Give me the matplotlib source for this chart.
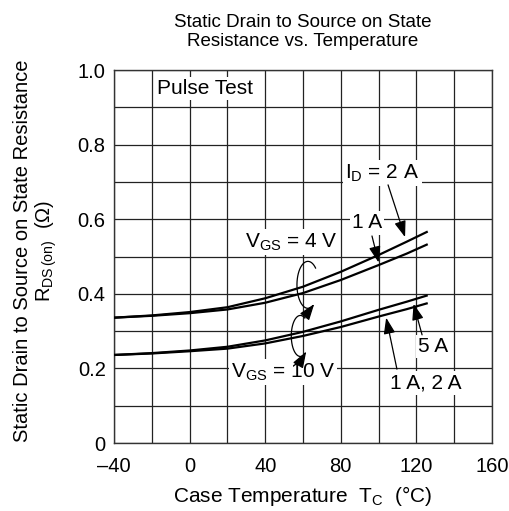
import matplotlib
matplotlib.use("Agg")
import numpy as np
import matplotlib.pyplot as plt
from matplotlib.patches import FancyArrowPatch
from matplotlib.path import Path

plt.rcParams['font.family'] = ['Liberation Sans', 'DejaVu Sans']
plt.rcParams['mathtext.fontset'] = 'custom'
plt.rcParams['mathtext.rm'] = 'Liberation Sans'
plt.rcParams['mathtext.it'] = 'Liberation Sans'

# Data
temp_c = [-40, -20, 0, 20, 40, 60, 80, 100, 115, 126]
r_vgs4_id2 = [0.336, 0.342, 0.351, 0.364, 0.388, 0.419, 0.459, 0.504, 0.540, 0.567]
r_vgs4_id1 = [0.336, 0.341, 0.348, 0.358, 0.376, 0.402, 0.437, 0.477, 0.508, 0.533]
r_vgs10_id5 = [0.236, 0.241, 0.248, 0.258, 0.275, 0.298, 0.326, 0.357, 0.379, 0.396]
r_vgs10_id12 = [0.236, 0.240, 0.246, 0.253, 0.267, 0.287, 0.311, 0.339, 0.359, 0.375]

x_ticks = [-40, 0, 40, 80, 120, 160]
x_tick_labels = ['\u201340', '0', '40', '80', '120', '160']
y_ticks = [0, 0.2, 0.4, 0.6, 0.8, 1.0]
y_tick_labels = ['0', '0.2', '0.4', '0.6', '0.8', '1.0']

FS = 15

fig = plt.figure(figsize=(5.10, 5.11), dpi=100)
ax = fig.add_axes([114/510, 68/511, 378/510, 373/511])

ax.set_xlim(-40, 160)
ax.set_ylim(0, 1.0)
ax.set_xticks(x_ticks)
ax.set_xticklabels(x_tick_labels, fontsize=14.5)
ax.set_yticks(y_ticks)
ax.set_yticklabels(y_tick_labels, fontsize=14.5)
ax.set_xticks(range(-40, 161, 20), minor=True)
ax.set_yticks([i / 10 for i in range(11)], minor=True)
ax.tick_params(which='both', length=0)
ax.tick_params(axis='x', which='both', pad=10)
ax.tick_params(axis='y', which='both', pad=6)
ax.grid(which='both', color='#222222', linewidth=0.9)
ax.set_axisbelow(True)
for s in ax.spines.values():
    s.set_color('#333333')
    s.set_linewidth(1.0)

for series in (r_vgs4_id2, r_vgs4_id1, r_vgs10_id5, r_vgs10_id12):
    ax.plot(temp_c, series, color='black', linewidth=1.6, solid_capstyle='butt', zorder=3)

ax.set_title('Static Drain to Source on State\nResistance vs. Temperature', fontsize=13.5,
             pad=17, linespacing=1.2)
ax.set_xlabel('Case Temperature  $\\mathregular{T_C}$  (\u00b0C)', fontsize=FS, labelpad=6)
ax.set_ylabel('Static Drain to Source on State Resistance\n$\\mathregular{R_{DS\\,(on)}}$  (\u03a9)',
              fontsize=FS - 0.5, linespacing=1.1)
ax.yaxis.set_label_coords(-0.145, 0.515)

bbox = dict(facecolor='white', edgecolor='none', pad=1.5)
txt_kw = dict(fontsize=FS, ha='center', va='center', bbox=bbox, zorder=4)

ax.text(-17, 0.95, 'Pulse Test', fontsize=FS, ha='left', va='center', bbox=bbox, zorder=4)
ax.text(102, 0.724, '$\\mathregular{I_D}$ = 2 A', **txt_kw)
ax.text(94, 0.59, '1 A', **txt_kw)
ax.text(54, 0.539, '$\\mathregular{V_{GS}}$ = 4 V', **txt_kw)
ax.text(49.5, 0.19, '$\\mathregular{V_{GS}}$ = 10 V', **txt_kw)
ax.text(129, 0.259, '5 A', **txt_kw)
ax.text(125, 0.161, '1 A, 2 A', **txt_kw)

arrow_style = '-|>,head_length=0.7,head_width=0.25'

def arrow(p0, p1):
    a = FancyArrowPatch(p0, p1, arrowstyle=arrow_style, mutation_scale=14,
                        color='black', linewidth=0.9, zorder=5, shrinkA=0, shrinkB=0)
    ax.add_patch(a)

def curl(cx, cy, rx, ry, a0, a1):
    t = np.radians(np.linspace(a0, a1, 40))
    verts = np.column_stack([cx + rx * np.cos(t), cy + ry * np.sin(t)])
    p = Path(verts)
    a = FancyArrowPatch(path=p, arrowstyle=arrow_style, mutation_scale=14,
                        color='black', linewidth=0.9, zorder=5)
    ax.add_patch(a)

arrow((105, 0.692), (114, 0.552))
arrow((96.5, 0.555), (100, 0.484))
arrow((123, 0.29), (118.5, 0.373))
arrow((109.7, 0.198), (104, 0.336))
# curl arrows
curl(62.6, 0.424, 5.8, 0.063, 45, 305)
curl(58.6, 0.287, 4.8, 0.055, 60, 310)

fig.savefig('out.png', dpi=100)
